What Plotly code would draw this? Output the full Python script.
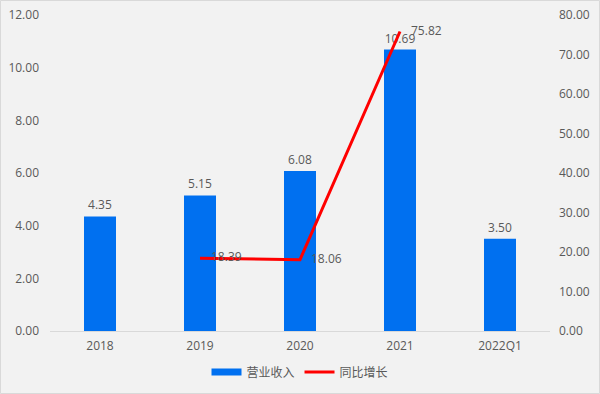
import plotly.graph_objects as go

categories = ["2018", "2019", "2020", "2021", "2022Q1"]
revenue = [4.35, 5.15, 6.08, 10.69, 3.50]
growth = [None, 18.39, 18.06, 75.82, None]
left_ticks = [0, 2, 4, 6, 8, 10, 12]
right_ticks = [0, 10, 20, 30, 40, 50, 60, 70, 80]

FONT = "'Open Sans', 'Noto Sans CJK SC', sans-serif"
GREY = "#595959"
BLUE = "#0070F0"
RED = "#FF0000"

fig = go.Figure()
fig.add_trace(go.Bar(
    x=categories, y=revenue, name="营业收入", showlegend=False,
    marker=dict(color=BLUE, line=dict(width=0)),
    width=0.32,
    text=[f"{v:.2f}" for v in revenue], textposition="outside",
    textfont=dict(color=GREY, size=12), cliponaxis=False,
))
# legend stand-in for the bar series (wide rectangle swatch)
fig.add_trace(go.Scatter(
    x=[None], y=[None], name="营业收入", mode="lines",
    line=dict(color=BLUE, width=7), showlegend=True,
))
fig.add_trace(go.Scatter(
    x=categories, y=growth, name="同比增长", yaxis="y2",
    mode="lines+markers+text", line=dict(color=RED, width=3),
    marker=dict(size=16, color="rgba(0,0,0,0)", line=dict(width=0)),
    text=["" if v is None else f"{v:.2f}" for v in growth],
    textposition="middle right",
    textfont=dict(color=GREY, size=12), cliponaxis=False, connectgaps=False,
))

fig.update_layout(
    width=600, height=394,
    margin=dict(l=50, r=50, t=15, b=63, autoexpand=False),
    paper_bgcolor="#F2F2F2", plot_bgcolor="#F2F2F2",
    font=dict(family=FONT, color=GREY, size=12),
    bargap=0.68,
    showlegend=True,
    legend=dict(orientation="h", x=0.5, xanchor="center", y=-0.13, yanchor="middle",
                font=dict(size=12, color=GREY), bgcolor="rgba(0,0,0,0)",
                itemwidth=30),
    xaxis=dict(showgrid=False, showline=True, linecolor="#D9D9D9", linewidth=1,
               ticks="", ticklabelstandoff=4, tickfont=dict(size=12, color=GREY), automargin=False),
    yaxis=dict(range=[0, 12], tickvals=left_ticks, ticktext=[f"{v:.2f}" for v in left_ticks],
               showgrid=False, zeroline=False, showline=False, ticks="", automargin=False,
               ticklabelstandoff=10, tickfont=dict(size=12, color=GREY)),
    yaxis2=dict(range=[0, 80], tickvals=right_ticks, ticktext=[f"{v:.2f}" for v in right_ticks],
                overlaying="y", side="right", showgrid=False, zeroline=False, showline=False,
                ticks="", automargin=False, ticklabelstandoff=8,
                tickfont=dict(size=12, color=GREY)),
    shapes=[dict(type="rect", xref="paper", yref="paper",
                 x0=-49.5/500, x1=1+49.5/500, y0=-62.5/316, y1=1+14.5/316,
                 line=dict(color="#D9D9D9", width=1), fillcolor="rgba(0,0,0,0)")],
)

fig.write_html("out.html", config={"displayModeBar": False},
               post_script="document.body.style.margin='0';document.body.style.overflow='hidden';")
